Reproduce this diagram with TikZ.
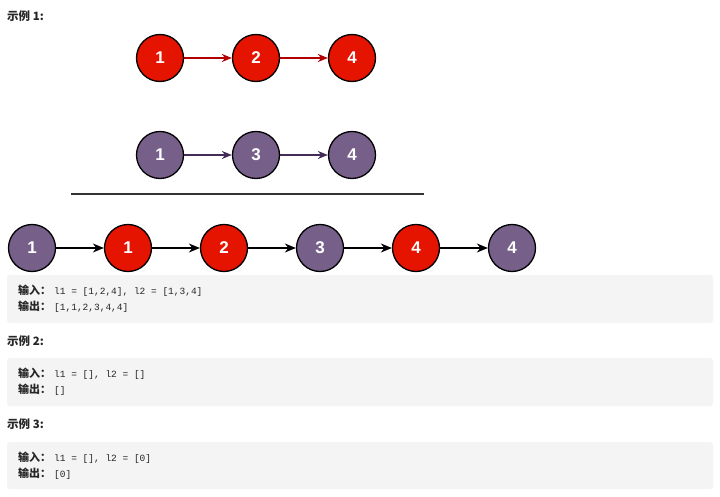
\documentclass[tikz,border=0pt]{standalone}
\usepackage{fontspec}
\setmainfont{Liberation Sans}
\setmonofont{Liberation Mono}
\newfontfamily\cjk{Noto Sans CJK SC}
\usetikzlibrary{arrows.meta}
\definecolor{nred}{HTML}{E51400}
\definecolor{npur}{HTML}{76608A}
\definecolor{ared}{HTML}{B20000}
\definecolor{apur}{HTML}{432D57}
\definecolor{boxg}{HTML}{F4F4F4}
\definecolor{txt}{HTML}{262626}
\tikzset{
  ln/.style={circle, draw=black, line width=1.3pt, minimum size=47pt, inner sep=0pt,
    text=white, font=\fontsize{17}{17}\selectfont\bfseries},
  rednode/.style={ln, fill=nred},
  purnode/.style={ln, fill=npur},
  redarr/.style={draw=ared, line width=1.1pt, -{Stealth[length=10pt,width=8pt]}},
  purarr/.style={draw=apur, line width=1.1pt, -{Stealth[length=10pt,width=8pt]}},
  blkarr/.style={draw=black, line width=1.4pt, -{Stealth[length=11pt,width=9pt]}},
  codebox/.style={fill=boxg, draw=none, rounded corners=3pt},
  head/.style={anchor=west, inner sep=0pt, text=txt, font=\fontsize{11.5}{11.5}\selectfont\cjk\bfseries},
  codeline/.style={anchor=west, inner sep=0pt, text=txt, font=\fontsize{10}{10}\selectfont},
}
\newcommand{\lbl}[1]{{\fontsize{11}{11}\selectfont\cjk\bfseries #1}\hspace{3pt}}
\newcommand{\cd}[1]{{\fontsize{9.5}{10}\selectfont\ttfamily #1}}
\begin{document}
\begin{tikzpicture}[x=1pt,y=-1pt]
\useasboundingbox (0,0) rectangle (720,497);
\fill[white] (0,0) rectangle (720,497);
% headings
\node[head] (h1) at (7,16) {示例 1:};
\node[head] (h2) at (7,341) {示例 2:};
\node[head] (h3) at (7,424) {示例 3:};
% top list
\node[rednode] (a1) at (160,58) {1};
\node[rednode] (a2) at (256,58) {2};
\node[rednode] (a3) at (352,58) {4};
\draw[redarr] (a1) -- (a2);
\draw[redarr] (a2) -- (a3);
% second list
\node[purnode] (b1) at (160,155) {1};
\node[purnode] (b2) at (256,155) {3};
\node[purnode] (b3) at (352,155) {4};
\draw[purarr] (b1) -- (b2);
\draw[purarr] (b2) -- (b3);
% separator
\coordinate (s1) at (71,194);
\coordinate (s2) at (424,194);
\draw[line width=1.3pt, black!80] (s1) -- (s2);
% merged list
\node[purnode] (c1) at (32,248) {1};
\node[rednode] (c2) at (128,248) {1};
\node[rednode] (c3) at (224,248) {2};
\node[purnode] (c4) at (320,248) {3};
\node[rednode] (c5) at (416,248) {4};
\node[purnode] (c6) at (512,248) {4};
\draw[blkarr] (c1) -- (c2);
\draw[blkarr] (c2) -- (c3);
\draw[blkarr] (c3) -- (c4);
\draw[blkarr] (c4) -- (c5);
\draw[blkarr] (c5) -- (c6);
% code boxes
\fill[codebox] (7,275) rectangle (713,323);
\fill[codebox] (7,358) rectangle (713,406);
\fill[codebox] (7,442) rectangle (713,489);
\node[codeline] (t1a) at (18,291) {\lbl{输入：}\cd{l1 = [1,2,4], l2 = [1,3,4]}};
\node[codeline] (t1b) at (18,307) {\lbl{输出：}\cd{[1,1,2,3,4,4]}};
\node[codeline] (t2a) at (18,374) {\lbl{输入：}\cd{l1 = [], l2 = []}};
\node[codeline] (t2b) at (18,390) {\lbl{输出：}\cd{[]}};
\node[codeline] (t3a) at (18,458) {\lbl{输入：}\cd{l1 = [], l2 = [0]}};
\node[codeline] (t3b) at (18,474) {\lbl{输出：}\cd{[0]}};
\end{tikzpicture}
\end{document}
